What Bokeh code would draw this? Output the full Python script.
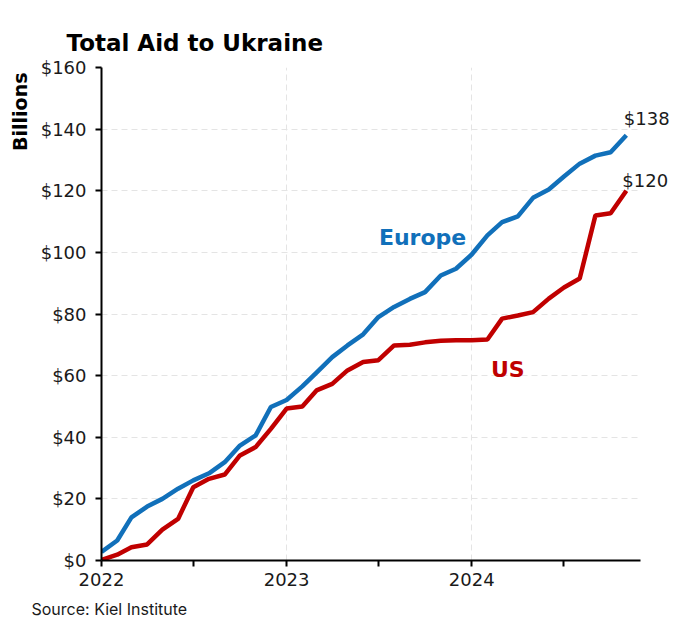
import pandas as pd
from bokeh.plotting import figure
from bokeh.models import Label, FixedTicker, Range1d, NumeralTickFormatter, Title
from bokeh.embed import file_html
from bokeh.resources import INLINE

# ---- data ----
months = ["2022-01", "2022-02", "2022-03", "2022-04", "2022-05", "2022-06",
          "2022-07", "2022-08", "2022-09", "2022-10", "2022-11", "2022-12",
          "2023-01", "2023-02", "2023-03", "2023-04", "2023-05", "2023-06",
          "2023-07", "2023-08", "2023-09", "2023-10", "2023-11", "2023-12",
          "2024-01", "2024-02", "2024-03", "2024-04", "2024-05", "2024-06",
          "2024-07", "2024-08", "2024-09", "2024-10", "2024-11"]
europe = [2.8, 6.5, 14.0, 17.5, 20.0, 23.3, 26.0, 28.3, 31.9, 37.3, 40.6, 49.8,
          52.1, 56.5, 61.0, 66.0, 69.8, 73.4, 79.0, 82.3, 84.9, 87.1, 92.5, 94.7,
          99.3, 105.5, 109.8, 111.7, 117.7, 120.4, 124.6, 128.8, 131.4, 132.5, 138.0]
us = [0.2, 1.9, 4.3, 5.2, 10.0, 13.5, 23.8, 26.5, 27.9, 34.1, 36.8, 42.7,
      49.3, 50.0, 55.2, 57.3, 61.7, 64.4, 65.0, 69.8, 70.0, 70.8, 71.3, 71.5,
      71.5, 71.7, 78.5, 79.5, 80.6, 85.0, 88.6, 91.5, 112.0, 112.7, 120.0]
y_ticks = [0, 20, 40, 60, 80, 100, 120, 140, 160]
year_ticks = ["2022-01-01", "2023-01-01", "2024-01-01"]
year_labels = ["2022", "2023", "2024"]
half_year_ticks = ["2022-07-01", "2023-07-01", "2024-07-01"]
axis_end = "2024-11-29"
end_labels = ["$138", "$120"]
series_names = ["Europe", "US"]

origin = pd.Timestamp("2022-01-01")
def days(s):
    return (pd.Timestamp(s) - origin).days

x = [days(m + "-01") for m in months]
xt_major = [days(d) for d in year_ticks]
xt_minor = [days(d) for d in half_year_ticks]
x_end = days(axis_end)

BLUE = "#1170BA"
RED = "#C00000"
FONT = "DejaVu Sans"

p = figure(width=672, height=627, output_backend="svg", toolbar_location=None,
           x_range=Range1d(0, x_end + 63), y_range=Range1d(0, 160),
           min_border_left=100, min_border_right=0, min_border_top=67,
           min_border_bottom=67)
p.title.text = "Total Aid to Ukraine"
p.title.text_font = FONT
p.title.text_font_size = "23px"
p.title.text_font_style = "bold"
p.title.text_color = "black"
p.title.align = "left"
p.title.offset = -35
p.title.standoff = 24
p.outline_line_color = None
p.background_fill_color = "white"
p.border_fill_color = "white"

p.line(x, europe, line_color=BLUE, line_width=4.5)
p.line(x, us, line_color=RED, line_width=4.5)

# axes
p.xaxis.ticker = FixedTicker(ticks=xt_major, minor_ticks=xt_minor)
p.xaxis.major_label_overrides = {k: v for k, v in zip(xt_major, year_labels)}
p.xaxis.bounds = (0, x_end)
p.yaxis.ticker = FixedTicker(ticks=y_ticks)
p.yaxis.formatter = NumeralTickFormatter(format="$0")
for ax in (p.xaxis[0], p.yaxis[0]):
    ax.axis_line_color = "black"
    ax.axis_line_width = 2
    ax.major_tick_line_color = "black"
    ax.major_tick_line_width = 2
    ax.major_tick_in = 0
    ax.major_tick_out = 6
    ax.major_label_text_font = FONT
    ax.major_label_text_font_size = "18px"
    ax.major_label_text_color = "#1a1a1a"
p.xaxis.minor_tick_line_color = "black"
p.xaxis.minor_tick_line_width = 2
p.xaxis.minor_tick_in = 0
p.xaxis.minor_tick_out = 6
p.yaxis.minor_tick_line_color = None
p.xaxis.major_label_standoff = 6
p.yaxis.major_label_standoff = 9

p.xgrid.ticker = FixedTicker(ticks=xt_major[1:])
p.ygrid.ticker = FixedTicker(ticks=y_ticks[1:])
p.ygrid.cross_bounds = (0, x_end - 5)
for g in (p.xgrid[0], p.ygrid[0]):
    g.grid_line_color = "#e4e4e4"
    g.grid_line_dash = "6 4"
    g.grid_line_width = 1

# side texts
p.add_layout(Title(text="Billions", align="right", offset=5, text_font=FONT,
                   text_font_size="19px", text_font_style="bold",
                   text_color="black", standoff=13), "left")
p.add_layout(Title(text="Source: Kiel Institute", align="left", offset=-70,
                   text_font="Inter", text_font_size="16px", standoff=17,
                   text_font_style="normal", text_color="#1a1a1a"), "below")

# in-plot texts
p.add_layout(Label(x=547, y=104.8, text=series_names[0], text_font=FONT,
                   text_font_size="22px", text_font_style="bold", text_color=BLUE,
                   text_baseline="middle", text_align="left"))
p.add_layout(Label(x=768, y=62, text=series_names[1], text_font=FONT,
                   text_font_size="22px", text_font_style="bold", text_color=RED,
                   text_baseline="middle", text_align="left"))
p.add_layout(Label(x=x[-1] - 5, y=europe[-1] + 5.5, text=end_labels[0], text_font=FONT,
                   text_font_size="18px", text_color="#1a1a1a",
                   text_baseline="middle", text_align="left"))
p.add_layout(Label(x=x[-1] - 8, y=us[-1] + 3.3, text=end_labels[1], text_font=FONT,
                   text_font_size="18px", text_color="#1a1a1a",
                   text_baseline="middle", text_align="left"))

open("out.html", "w").write(file_html(p, INLINE))
